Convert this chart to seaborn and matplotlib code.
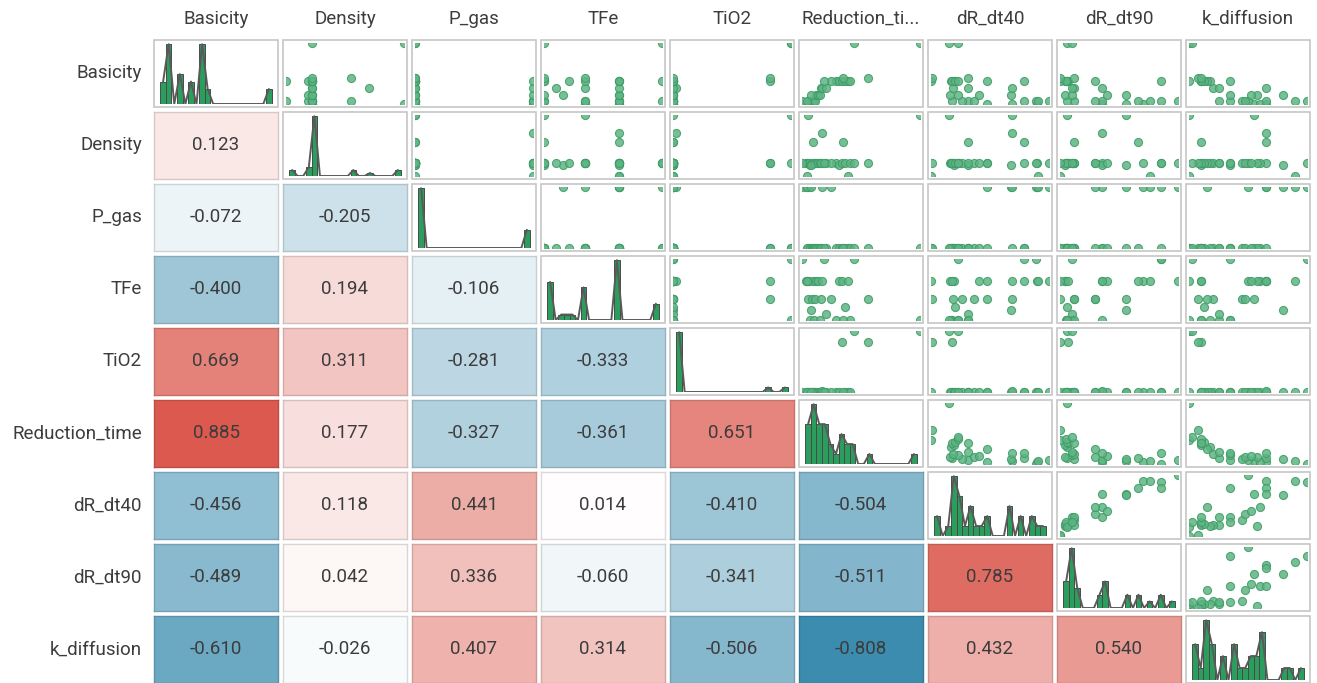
import numpy as np
import pandas as pd
import matplotlib
matplotlib.use("Agg")
import matplotlib.pyplot as plt
from matplotlib.patches import Rectangle
import seaborn as sns

sns.set_theme(style="white")
plt.rcParams['font.family'] = ['Roboto', 'DejaVu Sans']

columns = ["Basicity", "Density", "P_gas", "TFe", "TiO2", "Reduction_time",
           "dR_dt40", "dR_dt90", "k_diffusion"]
col_titles = ["Basicity", "Density", "P_gas", "TFe", "TiO2", "Reduction_ti...",
              "dR_dt40", "dR_dt90", "k_diffusion"]

# sample values (30 runs), read roughly off the scatter / histogram panels
basicity = [0.83, 0.83, 0.83, 0.91, 0.91, 0.91, 0.91, 0.91, 0.91, 0.91,
            0.91, 1.07, 1.07, 1.07, 1.07, 1.23, 1.23, 1.23, 1.41, 1.41,
            1.41, 1.41, 1.41, 1.41, 1.41, 1.41, 1.49, 1.49, 2.40, 2.40]
density = [3.43, 3.90, 3.43, 3.43, 3.41, 3.43, 3.43, 3.63, 3.43, 3.30,
           3.43, 3.43, 3.41, 3.43, 3.43, 3.43, 3.72, 3.43, 3.43, 3.41,
           3.43, 3.43, 3.43, 3.30, 3.43, 3.43, 3.43, 3.63, 3.90, 3.43]
p_gas = [0.30, 0.10, 0.10, 0.30, 0.10, 0.30, 0.10, 0.10, 0.10, 0.30,
         0.10, 0.10, 0.30, 0.10, 0.10, 0.10, 0.30, 0.10, 0.10, 0.10,
         0.10, 0.30, 0.10, 0.10, 0.10, 0.10, 0.10, 0.10, 0.10, 0.10]
tfe = [62.2, 59.5, 62.2, 62.2, 56.2, 65.7, 59.5, 62.2, 56.2, 62.2,
       59.5, 62.2, 57.7, 62.2, 56.2, 59.5, 62.2, 57.2, 56.2, 62.2,
       62.2, 59.5, 58.2, 62.2, 56.2, 65.7, 59.5, 56.2, 56.2, 65.7]
tio2 = [0.2, 0.2, 0.2, 0.2, 0.2, 0.2, 0.2, 0.2, 0.2, 0.2,
        0.2, 0.2, 0.2, 0.2, 0.2, 0.2, 0.4, 0.2, 0.2, 0.2,
        7.6, 0.2, 0.2, 0.2, 0.2, 0.2, 7.6, 0.2, 9.2, 9.2]
reduction_time = [27.5, 30.5, 29.0, 32.0, 33.5, 23.0, 35.0, 36.5, 38.0, 29.5,
                  39.5, 41.0, 34.0, 42.5, 45.5, 47.0, 48.5, 53.0, 65.0, 69.5,
                  72.5, 59.0, 77.0, 80.0, 83.0, 50.0, 105.5, 73.5, 170.0, 87.5]
dr_dt40 = [1.22, 0.98, 0.74, 1.34, 0.56, 1.21, 0.50, 1.10, 0.40, 1.23,
           0.62, 0.38, 0.97, 0.66, 0.46, 0.41, 0.98, 0.56, 0.39, 0.42,
           0.40, 0.74, 0.43, 0.20, 0.46, 1.10, 0.21, 0.56, 0.37, 0.46]
dr_dt90 = [0.45, 0.38, 0.28, 0.60, 0.28, 0.53, 0.16, 0.43, 0.13, 0.48,
           0.25, 0.12, 0.38, 0.30, 0.15, 0.16, 0.28, 0.15, 0.13, 0.12,
           0.135, 0.25, 0.13, 0.10, 0.125, 0.53, 0.10, 0.16, 0.13, 0.15]
k_diffusion = [0.036, 0.032, 0.034, 0.030, 0.024, 0.050, 0.028, 0.036, 0.020, 0.046,
               0.029, 0.033, 0.042, 0.031, 0.024, 0.018, 0.036, 0.020, 0.017, 0.014,
               0.014, 0.016, 0.015, 0.010, 0.014, 0.024, 0.013, 0.014, 0.010, 0.011]

# correlation values printed in the lower triangle (row by row)
corr_lower = [
    [],
    [0.123],
    [-0.072, -0.205],
    [-0.400, 0.194, -0.106],
    [0.669, 0.311, -0.281, -0.333],
    [0.885, 0.177, -0.327, -0.361, 0.651],
    [-0.456, 0.118, 0.441, 0.014, -0.410, -0.504],
    [-0.489, 0.042, 0.336, -0.060, -0.341, -0.511, 0.785],
    [-0.610, -0.026, 0.407, 0.314, -0.506, -0.808, 0.432, 0.540],
]

df = pd.DataFrame({
    "Basicity": basicity, "Density": density, "P_gas": p_gas, "TFe": tfe,
    "TiO2": tio2, "Reduction_time": reduction_time, "dR_dt40": dr_dt40,
    "dR_dt90": dr_dt90, "k_diffusion": k_diffusion,
})

cmap = sns.blend_palette(["#0e719c", "#ffffff", "#d74539"], as_cmap=True)
text_color = "#3c3c3c"
border_gray = "#c6c6c6"
bar_green = "#2b9e5e"
point_fill = "#5fb584"
point_edge = "#3f9b67"

W, H = 1317, 683
fig = plt.figure(figsize=(W / 100, H / 100), dpi=100)

x0, y0 = 154, 40
pitch_x, pitch_y = 129, 72
cw, ch = 124, 67
pad = 3
nbins = 20

n = len(columns)
for r in range(n):
    for c in range(n):
        left = x0 + c * pitch_x
        top = y0 + r * pitch_y
        if r > c:
            ax = fig.add_axes([left / W, 1 - (top + ch) / H, cw / W, ch / H])
            val = corr_lower[r][c]
            sns.heatmap(pd.DataFrame([[val]]), ax=ax, cmap=cmap, vmin=-1, vmax=1,
                        cbar=False, annot=True, fmt=".3f",
                        annot_kws={"color": text_color, "fontsize": 13.5},
                        xticklabels=False, yticklabels=False)
            edge = np.array(cmap((val + 1) / 2)[:3]) * 0.86
            for sp in ax.spines.values():
                sp.set_visible(True)
                sp.set_color(edge)
                sp.set_linewidth(1.0)
        else:
            iw, ih = cw - 2 * pad, ch - 2 * pad
            ax = fig.add_axes([(left + pad) / W, 1 - (top + pad + ih) / H, iw / W, ih / H])
            xcol = columns[c]
            if r == c:
                lo, hi = df[xcol].min(), df[xcol].max()
                sns.histplot(x=df[xcol], bins=nbins, binrange=(lo, hi), ax=ax,
                             color=bar_green, edgecolor="#4a4a4a", linewidth=0.7, alpha=1)
                top_count = max(p.get_height() for p in ax.patches)
                sns.histplot(x=df[xcol], bins=nbins, binrange=(lo, hi), ax=ax,
                             element="poly", fill=False, color="#5a5a5a", linewidth=1.4)
                span = hi - lo
                ax.set_xlim(lo - 0.03 * span, hi + 0.03 * span)
                ax.set_ylim(0, top_count * 1.02)
            else:
                ycol = columns[r]
                sns.scatterplot(x=df[xcol], y=df[ycol], ax=ax, s=34, color=point_fill,
                                edgecolor=point_edge, linewidth=0.8, alpha=0.85, legend=False)
                ax.set_xlim(df[xcol].min(), df[xcol].max())
                ax.set_ylim(df[ycol].min(), df[ycol].max())
            ax.set(xticks=[], yticks=[], xlabel="", ylabel="")
            for sp in ax.spines.values():
                sp.set_visible(False)
            ax.add_patch(Rectangle((-pad / iw, -pad / ih), 1 + 2 * pad / iw, 1 + 2 * pad / ih,
                                   transform=ax.transAxes, fill=False, edgecolor=border_gray,
                                   linewidth=1.2, clip_on=False))
        ax.set_xlabel("")
        ax.set_ylabel("")
        if r == 0:
            fig.text((left + cw / 2) / W, 1 - 19 / H, col_titles[c], ha="center", va="center",
                     fontsize=13.5, color=text_color)
        if c == 0:
            fig.text((left - 12) / W, 1 - (top + ch / 2) / H, columns[r], ha="right", va="center",
                     fontsize=13.5, color=text_color)

fig.savefig("out.png", dpi=100)
